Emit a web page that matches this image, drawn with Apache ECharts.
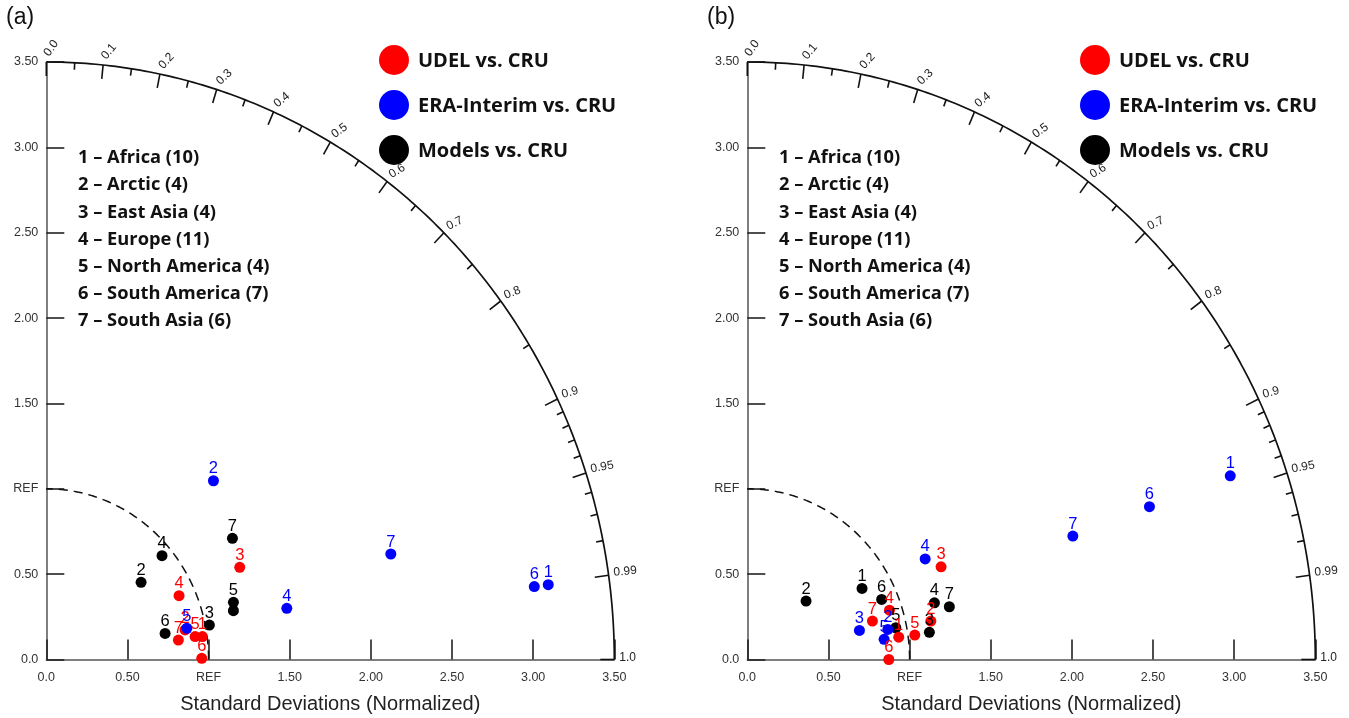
<!DOCTYPE html>
<html>
<head>
<meta charset="utf-8">
<title>Taylor diagrams</title>
<script src="https://cdn.jsdelivr.net/npm/echarts/dist/echarts.min.js"></script>
<style>
  html, body { margin: 0; padding: 0; background: #fff; }
  #chart { width: 1349px; height: 718px; }
</style>
</head>
<body>
<div id="chart"></div>
<script>
// std-dev axis ticks (normalized), 1.0 is shown as REF
const sdTicks = ['0.0', '0.50', 'REF', '1.50', '2.00', '2.50', '3.00', '3.50']
const sdMax = 3.5

// correlation ticks on the outer arc
const corrMajor = [0.0, 0.1, 0.2, 0.3, 0.4, 0.5, 0.6, 0.7, 0.8, 0.9, 0.95, 0.99, 1.0]
const corrLabels = ['0.0', '0.1', '0.2', '0.3', '0.4', '0.5', '0.6', '0.7', '0.8', '0.9', '0.95', '0.99', '1.0']
const corrMinor = [0.05, 0.15, 0.25, 0.35, 0.45, 0.55, 0.65, 0.75, 0.85, 0.91, 0.92, 0.93, 0.94, 0.96, 0.97, 0.98]

const regions = ['Africa (10)', 'Arctic (4)', 'East Asia (4)', 'Europe (11)',
  'North America (4)', 'South America (7)', 'South Asia (6)']

// panel (a): [x, y] in normalized std-dev units
const udelIdsA = [1, 2, 3, 4, 5, 6, 7]
const udelA = [[0.962, 0.134], [0.855, 0.173], [1.192, 0.540], [0.818, 0.374],
  [0.917, 0.134], [0.958, 0.007], [0.814, 0.114]]
const eraIdsA = [1, 2, 4, 5, 6, 7]
const eraA = [[3.093, 0.438], [1.030, 1.047], [1.482, 0.300], [0.866, 0.183],
  [3.007, 0.427], [2.123, 0.618]]
const modelIdsA = [1, 2, 3, 4, 5, 6, 7]
const modelA = [[1.153, 0.286], [0.584, 0.452], [1.005, 0.202], [0.713, 0.608],
  [1.153, 0.335], [0.732, 0.153], [1.147, 0.710]]

// panel (b)
const udelIdsB = [1, 2, 3, 4, 5, 6, 7]
const udelB = [[0.933, 0.131], [1.131, 0.225], [1.194, 0.543], [0.876, 0.289],
  [1.032, 0.143], [0.872, 0.0], [0.771, 0.225]]
const eraIdsB = [1, 2, 3, 4, 5, 6, 7]
const eraB = [[2.976, 1.076], [0.866, 0.176], [0.691, 0.170], [1.096, 0.589],
  [0.843, 0.118], [2.478, 0.895], [2.006, 0.723]]
const modelIdsB = [1, 2, 3, 4, 5, 6, 7]
const modelB = [[0.707, 0.416], [0.362, 0.342], [1.122, 0.159], [1.153, 0.332],
  [0.915, 0.186], [0.828, 0.352], [1.245, 0.309]]

const legendItems = [
  { name: 'UDEL vs. CRU', color: '#ff0000' },
  { name: 'ERA-Interim vs. CRU', color: '#0000ff' },
  { name: 'Models vs. CRU', color: '#000000' }
]

const FONT = '"Liberation Sans", Arial, sans-serif'
const BOLD = '"Open Sans", Lato, sans-serif'

const panels = [
  { left: 46.3, tag: '(a)' },
  { left: 747.3, tag: '(b)' }
]

const chart = echarts.init(document.getElementById('chart'))

const grids = panels.map(p => ({
  left: p.left, top: 62, width: 568, height: 597.5,
  containLabel: false, outerBoundsMode: 'none'
}))

const xAxes = panels.map((p, i) => ({
  gridIndex: i, type: 'value', min: 0, max: sdMax, interval: 0.5,
  axisLine: { show: true, lineStyle: { color: '#555', width: 1.5 } },
  axisTick: { show: true, inside: true, length: 20, lineStyle: { color: '#222', width: 1.6 } },
  axisLabel: {
    formatter: v => sdTicks[Math.round(v / 0.5)], fontSize: 12.5, color: '#333',
    margin: 12, fontFamily: FONT, showMaxLabel: true, showMinLabel: true
  },
  splitLine: { show: false },
  name: 'Standard Deviations (Normalized)', nameLocation: 'middle', nameGap: 35,
  nameTextStyle: { fontSize: 20, color: '#222', fontFamily: FONT }
}))

const yAxes = panels.map((p, i) => ({
  gridIndex: i, type: 'value', min: 0, max: sdMax, interval: 0.5,
  axisLine: { show: true, onZero: false, lineStyle: { color: '#555', width: 1.5 } },
  axisTick: { show: true, inside: true, length: 18, lineStyle: { color: '#222', width: 1.6 } },
  axisLabel: {
    formatter: v => sdTicks[Math.round(v / 0.5)], fontSize: 12.5, color: '#333',
    margin: 8, fontFamily: FONT, showMaxLabel: true, showMinLabel: true
  },
  splitLine: { show: false }
}))

// quarter circle of radius r (std-dev units)
function arcSeries(gi, r, dashed) {
  return {
    type: 'custom', xAxisIndex: gi, yAxisIndex: gi, silent: true, clip: false, z: 1,
    data: [[0, 0]],
    renderItem: (params, api) => {
      const pts = []
      for (let a = 0; a <= 90; a += 0.5) {
        const t = a * Math.PI / 180
        pts.push(api.coord([r * Math.cos(t), r * Math.sin(t)]))
      }
      return {
        type: 'polyline', shape: { points: pts },
        style: { stroke: '#111', lineWidth: dashed ? 1.5 : 1.7, fill: null, lineDash: dashed ? [9, 6] : null }
      }
    }
  }
}

// correlation ticks and labels along the outer arc
function corrSeries(gi) {
  const data = corrMajor.map((c, i) => [c, 1, i]).concat(corrMinor.map(c => [c, 0, -1]))
  return {
    type: 'custom', xAxisIndex: gi, yAxisIndex: gi, silent: true, clip: false, z: 1,
    data: data,
    renderItem: (params, api) => {
      const c = api.value(0)
      const major = api.value(1) === 1
      const t = Math.acos(c)
      const o = api.coord([0, 0])
      const p = api.coord([sdMax * Math.cos(t), sdMax * Math.sin(t)])
      const dx = p[0] - o[0], dy = p[1] - o[1]
      const d = Math.sqrt(dx * dx + dy * dy)
      const ux = dx / d, uy = dy / d
      const len = major ? 14 : 7
      const children = [{
        type: 'line',
        shape: { x1: p[0], y1: p[1], x2: p[0] - ux * len, y2: p[1] - uy * len },
        style: { stroke: '#111', lineWidth: 1.6 }
      }]
      if (major) {
        children.push({
          type: 'text',
          x: p[0] + ux * 5, y: p[1] + uy * 5 - 2,
          rotation: t * 0.6,
          style: {
            text: corrLabels[api.value(2)], fontSize: 12, fill: '#222', fontFamily: FONT,
            align: 'left', verticalAlign: 'middle'
          }
        })
      }
      return { type: 'group', children: children }
    }
  }
}

function scatterSeries(gi, pts, ids, color, hidden) {
  return {
    type: 'scatter', xAxisIndex: gi, yAxisIndex: gi, symbolSize: 11, z: 3,
    itemStyle: { color: color, opacity: 1 },
    label: {
      show: true, position: 'top', distance: -2, formatter: '{b}',
      color: color, fontSize: 16.5, fontFamily: FONT
    },
    data: pts.map((pt, i) => {
      const item = { value: pt, name: String(ids[i]) }
      if (hidden && hidden.indexOf(ids[i]) >= 0) item.label = { show: false }
      return item
    })
  }
}

const series = []
panels.forEach((p, i) => {
  series.push(arcSeries(i, sdMax, false), arcSeries(i, 1, true), corrSeries(i))
})
// panel (a): model 1 sits under model 5, its label is hidden
series.push(
  scatterSeries(0, modelA, modelIdsA, '#000000', [1]),
  scatterSeries(0, udelA, udelIdsA, '#ff0000'),
  scatterSeries(0, eraA, eraIdsA, '#0000ff'),
  scatterSeries(1, modelB, modelIdsB, '#000000'),
  scatterSeries(1, udelB, udelIdsB, '#ff0000'),
  scatterSeries(1, eraB, eraIdsB, '#0000ff')
)

// panel tags, legends and region lists
const graphic = []
panels.forEach((p, i) => {
  const off = p.left - panels[0].left
  graphic.push({
    type: 'text', left: 6 + off, top: 6,
    style: { text: p.tag, fontSize: 23, fill: '#111', fontFamily: FONT }
  })
  legendItems.forEach((it, k) => {
    graphic.push({
      type: 'circle', shape: { cx: 394 + off, cy: 60 + k * 45, r: 15 },
      style: { fill: it.color }
    })
    graphic.push({
      type: 'text', x: 418 + off, y: 61 + k * 45,
      style: {
        text: it.name, fontSize: 20, fontWeight: 'bold', fill: '#111', fontFamily: BOLD,
        verticalAlign: 'middle'
      }
    })
  })
  regions.forEach((r, k) => {
    graphic.push({
      type: 'text', x: 78 + off, y: 158 + k * 27.2,
      style: {
        text: (k + 1) + ' \u2013 ' + r, fontSize: 18.3, fontWeight: 'bold', fill: '#111',
        fontFamily: BOLD, verticalAlign: 'middle'
      }
    })
  })
})

chart.setOption({
  animation: false,
  grid: grids,
  xAxis: xAxes,
  yAxis: yAxes,
  series: series,
  graphic: graphic
})

window.addEventListener('resize', () => chart.resize())
</script>
</body>
</html>
